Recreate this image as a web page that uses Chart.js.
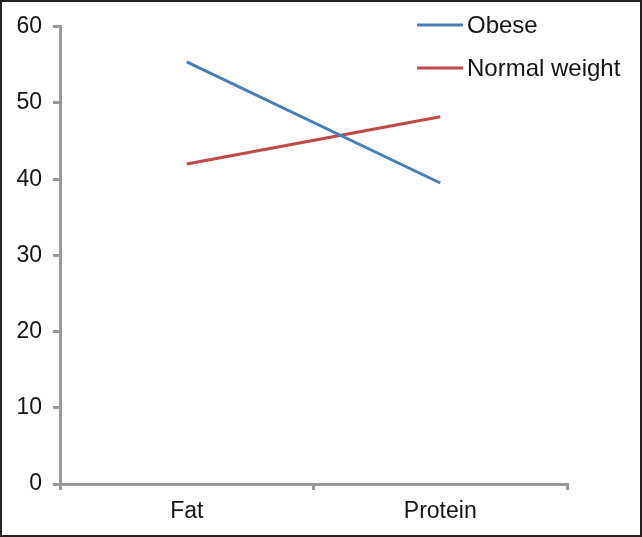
<!DOCTYPE html>
<html>
<head>
<meta charset="utf-8">
<script src="https://cdn.jsdelivr.net/npm/chart.js@4"></script>
<style>
    html, body { margin: 0; padding: 0; background: #fff; }
    #wrap {
        width: 642px; height: 537px; box-sizing: border-box;
        border: 2px solid #222; background: #fff; position: relative;
    }
</style>
</head>
<body>
<div id="wrap"><canvas id="chart"></canvas></div>
<script>
    // Data
    var categories = ["Fat", "Protein"];
    var obese = [55.4, 39.5];
    var normalWeight = [42.0, 48.2];
    var seriesNames = ["Obese", "Normal weight"];
    var yTicks = [0, 10, 20, 30, 40, 50, 60];

    var axisColor = "#999999";
    var textColor = "#141414";
    var font = "'Liberation Sans', Arial, sans-serif";

    // Legend drawn in the top right corner
    var cornerLegend = {
        id: "cornerLegend",
        afterDraw: function (chart) {
            var ctx = chart.ctx;
            ctx.save();
            ctx.font = "24px " + font;
            ctx.textBaseline = "middle";
            ctx.lineWidth = 3;
            chart.data.datasets.forEach(function (ds, i) {
                var y = 23 + i * 43;
                ctx.strokeStyle = ds.borderColor;
                ctx.beginPath();
                ctx.moveTo(415, y);
                ctx.lineTo(461, y);
                ctx.stroke();
                ctx.fillStyle = textColor;
                ctx.fillText(ds.label, 465, y + 1);
            });
            ctx.restore();
        }
    };

    var ctx = document.getElementById("chart").getContext("2d");
    var myChart = new Chart(ctx, {
        type: "line",
        data: {
            labels: categories,
            datasets: [{
                label: seriesNames[0],
                data: obese,
                borderColor: "#4A7EBB",
                backgroundColor: "#4A7EBB",
                borderWidth: 3,
                pointRadius: 0,
                tension: 0
            },
            {
                label: seriesNames[1],
                data: normalWeight,
                borderColor: "#BE4B48",
                backgroundColor: "#BE4B48",
                borderWidth: 3,
                pointRadius: 0,
                tension: 0
            }
            ]
        },
        options: {
            responsive: true,
            maintainAspectRatio: false,
            animation: false,
            layout: { padding: { top: 23, right: 73, bottom: 0, left: 0 } },
            plugins: {
                legend: { display: false },
                tooltip: { enabled: false }
            },
            scales: {
                x: {
                    offset: true,
                    grid: {
                        offset: true,
                        drawOnChartArea: false,
                        drawTicks: true,
                        tickLength: 6,
                        color: axisColor,
                        lineWidth: 3
                    },
                    border: { color: axisColor, width: 3 },
                    ticks: {
                        color: textColor,
                        font: { family: font, size: 23 },
                        padding: 8,
                        maxRotation: 0
                    },
                    afterFit: function (scale) { scale.height = 51; }
                },
                y: {
                    min: 0,
                    max: 60,
                    afterBuildTicks: function (scale) {
                        scale.ticks = yTicks.map(function (v) { return { value: v }; });
                    },
                    grid: {
                        drawOnChartArea: false,
                        drawTicks: true,
                        tickLength: 7,
                        color: axisColor,
                        lineWidth: 3
                    },
                    border: { color: axisColor, width: 3 },
                    ticks: {
                        color: textColor,
                        font: { family: font, size: 23 },
                        padding: 11
                    },
                    afterFit: function (scale) { scale.width = 58; }
                }
            }
        },
        plugins: [cornerLegend]
    });
</script>
</body>
</html>
